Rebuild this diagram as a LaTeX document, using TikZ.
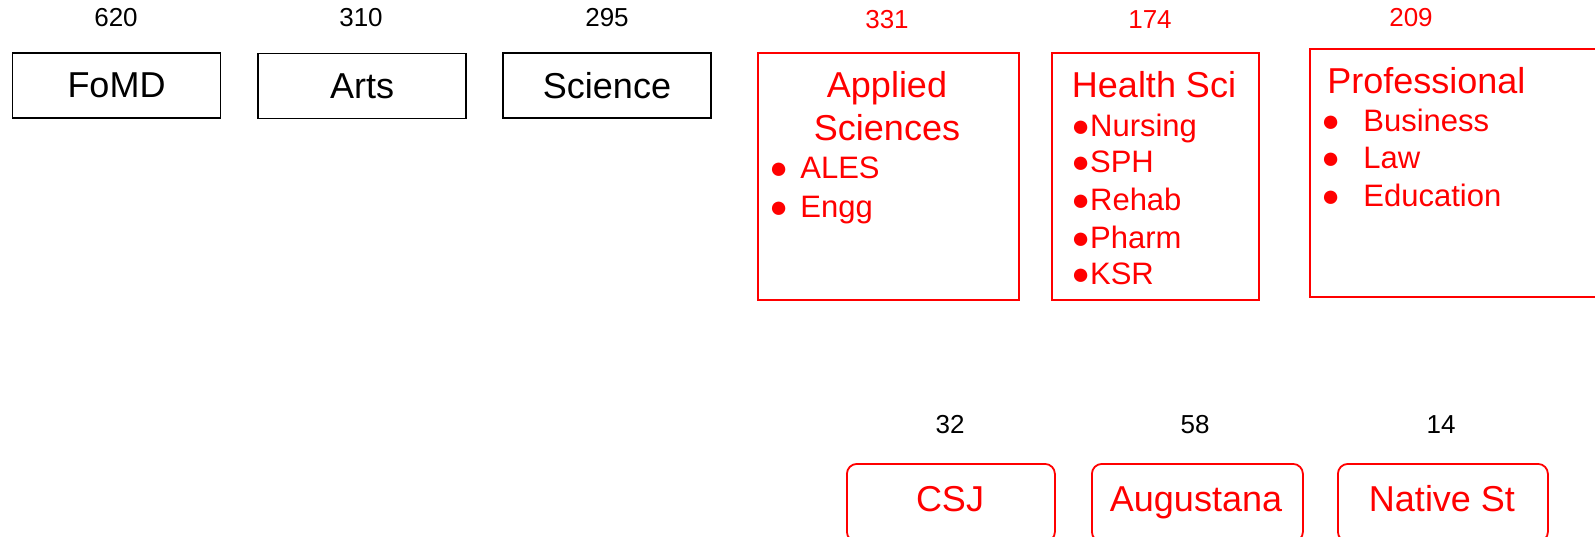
\documentclass[tikz,border=0pt]{standalone}
\usepackage{fontspec}
\setmainfont{Liberation Sans}
\usetikzlibrary{positioning}
\definecolor{fred}{RGB}{255,0,0}
\newcommand{\blt}[1]{\makebox[#1][l]{●}}

\begin{document}
\begin{tikzpicture}[x=0.5pt, y=-0.5pt,
    facbox/.style={rectangle, draw, line width=0.9pt, inner sep=0pt, minimum width=104pt, minimum height=32.5pt, font=\fontsize{18}{20}\selectfont},
    groupbox/.style={rectangle, draw=fred, line width=0.9pt, inner sep=0pt, anchor=north west},
    campbox/.style={groupbox, rounded corners=5pt, minimum height=39pt},
    count/.style={inner sep=0pt, anchor=base, font=\fontsize{13}{15}\selectfont},
    title/.style={inner sep=0pt, text=fred, font=\fontsize{18}{20}\selectfont},
    item/.style={inner sep=0pt, anchor=base west, text=fred, font=\fontsize{15.5}{18}\selectfont}]
    \useasboundingbox (0,0) rectangle (1595,536);

    % faculties
    \node[facbox](fomd) at (116.5,85.5) {FoMD};
    \node[facbox](arts) at (362,86) {Arts};
    \node[facbox](sci) at (607,85.5) {Science};
    \node[count](nfomd) at (116,26) {620};
    \node[count](narts) at (361,26) {310};
    \node[count](nsci) at (607,26) {295};

    % applied sciences
    \node[groupbox, minimum width=130.5pt, minimum height=123.5pt](appl) at (757,52) {};
    \node[count, text=fred](nappl) at (887,28) {331};
    \node[title, anchor=base](appl1) at (887,97) {Applied};
    \node[title, anchor=base](appl2) at (887,140) {Sciences};
    \node[item](ales) at (769,178) {\blt{15.5pt}ALES};
    \node[item](engg) at (769,217) {\blt{15.5pt}Engg};

    % health sciences
    \node[groupbox, minimum width=103.5pt, minimum height=123.5pt](hlth) at (1051,52) {};
    \node[count, text=fred](nhlth) at (1150,28) {174};
    \node[title, anchor=base](hlth1) at (1154,97) {Health Sci};
    \node[item](nurs) at (1071,136) {●Nursing};
    \node[item](sph) at (1071,172) {●SPH};
    \node[item](rehab) at (1071,210) {●Rehab};
    \node[item](pharm) at (1071,248) {●Pharm};
    \node[item](ksr) at (1071,284) {●KSR};

    % professional
    \node[groupbox, minimum width=155.5pt, minimum height=124pt](prof) at (1309,48) {};
    \node[count, text=fred](nprof) at (1411,26) {209};
    \node[title, anchor=base west](prof1) at (1327,93) {Professional};
    \node[item](bus) at (1321,131) {\blt{21pt}Business};
    \node[item](law) at (1321,168) {\blt{21pt}Law};
    \node[item](educ) at (1321,206) {\blt{21pt}Education};

    % campuses
    \node[campbox, minimum width=104pt](csj) at (846,463) {};
    \node[campbox, minimum width=105.5pt](aug) at (1091,463) {};
    \node[campbox, minimum width=105pt](nat) at (1337,463) {};
    \node[count](ncsj) at (950,433) {32};
    \node[count](naug) at (1195,433) {58};
    \node[count](nnat) at (1441,433) {14};
    \node[title, anchor=base](tcsj) at (950,511) {CSJ};
    \node[title, anchor=base](taug) at (1196,511) {Augustana};
    \node[title, anchor=base](tnat) at (1442,511) {Native St};
\end{tikzpicture}
\end{document}
